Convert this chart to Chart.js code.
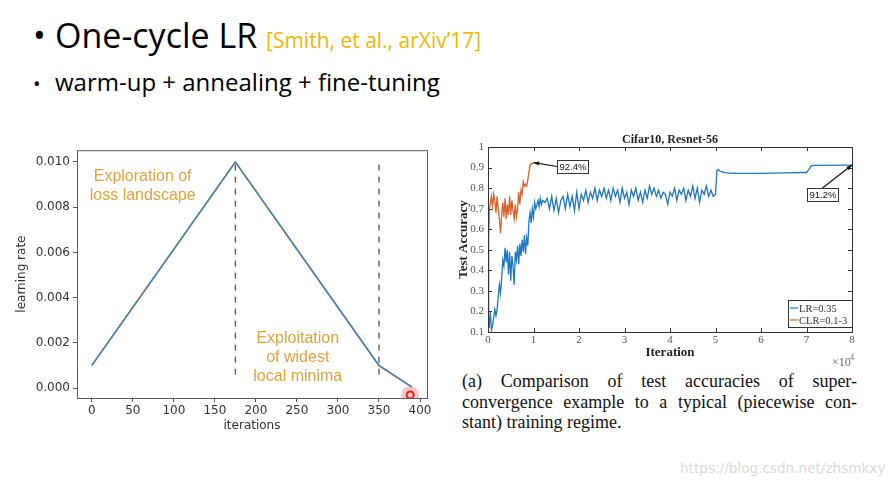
<!DOCTYPE html>
<html lang="en">
<head>
<meta charset="UTF-8">
<title>One-cycle LR</title>
<script src="https://cdn.jsdelivr.net/npm/chart.js"></script>
<style>
  html, body { margin: 0; padding: 0; background: #fff; }
  body { width: 895px; height: 488px; position: relative; overflow: hidden; font-family: "Open Sans", sans-serif; }
  .abs { position: absolute; white-space: nowrap; }
  #title { left: 33px; top: 12px; font-size: 34px; color: #000; line-height: 46px; }
  #title .cite { font-size: 21px; color: #f5b700; }
  #sub { left: 33px; top: 66px; font-size: 24px; color: #000; line-height: 32px; }
  .bullet { display: inline-block; width: 22px; }
  #sub .bullet { font-size: 20px; }
  #lrBox { left: 10px; top: 140px; width: 430px; height: 300px; }
  #accBox { left: 450px; top: 125px; width: 420px; height: 245px; }
  #caption { left: 462px; top: 371px; width: 395px; font-family: "Liberation Serif", serif; font-size: 18px; line-height: 20.5px; color: #111; white-space: normal; }
  #caption .j { text-align: justify; text-align-last: justify; }
  #mark { left: 680px; top: 460px; font-family: "DejaVu Sans", sans-serif; font-size: 13.6px; color: #dadada; }
</style>
</head>
<body>
  <div id="title" class="abs"><span class="bullet">•</span>One-cycle LR <span class="cite">[Smith, et al., arXiv’17]</span></div>
  <div id="sub" class="abs"><span class="bullet">•</span>warm-up + annealing + fine-tuning</div>

  <div id="lrBox" class="abs"><canvas id="lrChart" width="430" height="300"></canvas></div>
  <div id="accBox" class="abs"><canvas id="accChart" width="420" height="245"></canvas></div>

  <div id="caption" class="abs">
    <div class="j">(a) Comparison of test accuracies of super-</div>
    <div class="j">convergence example to a typical (piecewise con-</div>
    <div>stant) training regime.</div>
  </div>
  <div id="mark" class="abs">https://blog.csdn.net/zhsmkxy</div>

<script>
// ---- left plot: one-cycle learning-rate schedule ----
const lrIters = [0, 175, 350, 390];
const lrValues = [0.001, 0.010, 0.001, 0.00005];
const lrTicksX = [0, 50, 100, 150, 200, 250, 300, 350, 400];
const lrTicksY = [0, 0.002, 0.004, 0.006, 0.008, 0.010];
const phaseIters = [175, 350];
const phaseTop = [0.0100, 0.0099];
const phaseBottom = 0.0006;
const cursorPoint = { x: 388, y: -0.0003 };

// ---- right plot: Cifar10 test accuracy ----
const lrSeriesIters = [
  0, 250, 500, 750, 1000, 1250, 1500, 1750, 2000, 2250, 2500, 2750, 3000, 3250, 3500, 3750,
  4000, 4250, 4500, 4750, 5000, 5250, 5500, 5750, 6000, 6250, 6500, 6750, 7000, 7250, 7500, 7750,
  8000, 8250, 8500, 8750, 9000, 9250, 9500, 9750, 10000, 10250, 10500, 10750, 11000, 11250, 11500, 11750,
  12000, 12500, 13000, 13500, 14000, 14500, 15000, 15500, 16000, 16500, 17000, 17500, 18000, 18500, 19000, 19500,
  20000, 20500, 21000, 21500, 22000, 22500, 23000, 23500, 24000, 24500, 25000, 25500, 26000, 26500, 27000, 27500,
  28000, 28500, 29000, 29500, 30000, 30500, 31000, 31500, 32000, 32500, 33000, 33500, 34000, 34500, 35000, 35500,
  36000, 36500, 37000, 37500, 38000, 38500, 39000, 39500, 40000, 40500, 41000, 41500, 42000, 42500, 43000, 43500,
  44000, 44500, 45000, 45500, 46000, 46500, 47000, 47500, 48000, 48500, 49000, 49500, 50000,
  50300, 50600, 51000, 52000, 54000, 60000, 65000, 69500, 70000, 70500, 71000, 71500, 80000
];
const lrSeriesAcc = [
  0.20, 0.12, 0.20, 0.11, 0.13, 0.17, 0.21, 0.18, 0.21, 0.27, 0.33, 0.29, 0.36, 0.45, 0.42, 0.51,
  0.44, 0.50, 0.38, 0.49, 0.35, 0.47, 0.42, 0.33, 0.49, 0.45, 0.52, 0.43, 0.53, 0.47, 0.55, 0.49,
  0.57, 0.48, 0.56, 0.52, 0.64, 0.68, 0.63, 0.70, 0.66, 0.73, 0.70, 0.72, 0.74, 0.71, 0.75, 0.72,
  0.74, 0.73, 0.75, 0.70, 0.76, 0.69, 0.75, 0.68, 0.74, 0.76, 0.70, 0.77, 0.71, 0.76, 0.69, 0.78,
  0.70, 0.77, 0.74, 0.79, 0.73, 0.78, 0.75, 0.80, 0.74, 0.79, 0.76, 0.80, 0.75, 0.79, 0.74, 0.80,
  0.76, 0.79, 0.73, 0.80, 0.75, 0.78, 0.72, 0.79, 0.76, 0.80, 0.74, 0.78, 0.73, 0.79, 0.75, 0.81,
  0.77, 0.80, 0.76, 0.79, 0.75, 0.78, 0.77, 0.72, 0.78, 0.76, 0.80, 0.74, 0.79, 0.77, 0.80, 0.74,
  0.79, 0.76, 0.81, 0.75, 0.80, 0.73, 0.79, 0.77, 0.81, 0.76, 0.79, 0.76, 0.77,
  0.885, 0.890, 0.883, 0.875, 0.872, 0.872, 0.874, 0.876, 0.876, 0.890, 0.906, 0.911, 0.912
];
const clrSeriesIters = [
  0, 150, 300, 500, 750, 1000, 1250, 1500, 1750, 2000, 2250, 2500, 2750, 3000, 3250, 3500,
  3750, 4000, 4250, 4500, 4750, 5000, 5250, 5500, 5750, 6000, 6250, 6500, 6750, 7000, 7250, 7500,
  7750, 8000, 8250, 8500, 8750, 9000, 9250, 9500, 9750, 10000
];
const clrSeriesAcc = [
  0.20, 0.55, 0.70, 0.72, 0.76, 0.71, 0.77, 0.74, 0.68, 0.76, 0.70, 0.65, 0.58, 0.67, 0.73, 0.66,
  0.75, 0.65, 0.72, 0.67, 0.76, 0.67, 0.74, 0.69, 0.65, 0.72, 0.66, 0.70, 0.78, 0.72, 0.79, 0.77,
  0.83, 0.81, 0.82, 0.81, 0.84, 0.88, 0.91, 0.92, 0.918, 0.924
];
const accTicksX = [0, 10000, 20000, 30000, 40000, 50000, 60000, 70000, 80000];
const accTicksY = [0.1, 0.2, 0.3, 0.4, 0.5, 0.6, 0.7, 0.8, 0.9, 1];
// callout boxes: label, data point, box top-left offset from the point, arrow anchor side
const callouts = [
  { text: '92.4%', x: 10000, y: 0.924, dx: 23, dy: -3, from: 'left' },
  { text: '91.2%', x: 80000, y: 0.912, dx: -45, dy: 23, from: 'top' }
];

const toXY = (xs, ys) => xs.map((x, i) => ({ x: x, y: ys[i] }));
const fixTicks = list => scale => { scale.ticks = list.map(v => ({ value: v })); };

// Left chart
const sans = '"DejaVu Sans", sans-serif';
const lrDecor = {
  id: 'lrDecor',
  afterDraw(chart) {
    const { ctx, chartArea: a, scales: { x, y } } = chart;
    ctx.save();
    ctx.strokeStyle = '#5a5a5a';
    ctx.lineWidth = 1;
    ctx.strokeRect(a.left + 0.5, a.top + 0.5, a.right - a.left, a.bottom - a.top);
    ctx.fillStyle = '#333';
    ctx.font = '12px ' + sans;
    ctx.textAlign = 'center';
    ctx.textBaseline = 'middle';
    ctx.fillText('iterations', (a.left + a.right) / 2, 286);
    ctx.translate(12, (a.top + a.bottom) / 2);
    ctx.rotate(-Math.PI / 2);
    ctx.fillText('learning rate', 0, 0);
    ctx.restore();

    ctx.save();
    ctx.fillStyle = '#e3a23c';
    ctx.font = '16px "Liberation Sans", sans-serif';
    ctx.textAlign = 'center';
    ctx.textBaseline = 'middle';
    const ex = x.getPixelForValue(62);
    ctx.fillText('Exploration of', ex, y.getPixelForValue(0.00935));
    ctx.fillText('loss landscape', ex, y.getPixelForValue(0.0085));
    const fx = x.getPixelForValue(251);
    ctx.fillText('Exploitation', fx, y.getPixelForValue(0.0022));
    ctx.fillText('of widest', fx, y.getPixelForValue(0.00135));
    ctx.fillText('local minima', fx, y.getPixelForValue(0.0005));
    ctx.restore();
  }
};

const lrDatasets = [
  {
    data: toXY(lrIters, lrValues),
    borderColor: '#4f7ea1',
    borderWidth: 1.8,
    pointRadius: 0,
    showLine: true
  }
];
phaseIters.forEach((it, i) => {
  lrDatasets.push({
    data: [{ x: it, y: phaseBottom }, { x: it, y: phaseTop[i] }],
    borderColor: '#555',
    borderWidth: 1.3,
    borderDash: [6, 6],
    pointRadius: 0,
    showLine: true
  });
});
lrDatasets.push({
  data: [cursorPoint],
  pointRadius: 9,
  pointBackgroundColor: 'rgba(255,60,60,0.28)',
  pointBorderWidth: 0,
  showLine: false
});
lrDatasets.push({
  data: [cursorPoint],
  pointRadius: 3.5,
  pointBackgroundColor: '#fff',
  pointBorderColor: '#f01010',
  pointBorderWidth: 2,
  showLine: false
});

new Chart(document.getElementById('lrChart'), {
  type: 'scatter',
  data: { datasets: lrDatasets },
  options: {
    responsive: false,
    animation: false,
    layout: { padding: { top: 6, right: 13, left: 0, bottom: 0 } },
    plugins: { legend: { display: false }, tooltip: { enabled: false } },
    scales: {
      x: {
        type: 'linear', min: -18, max: 408.5,
        afterBuildTicks: fixTicks(lrTicksX),
        afterFit: s => { s.height = 42; },
        border: { display: false },
        grid: { drawOnChartArea: false, tickLength: 4, color: '#555' },
        ticks: { color: '#333', font: { family: sans, size: 12 }, padding: 2 }
      },
      y: {
        type: 'linear', min: -0.000435, max: 0.01052,
        afterBuildTicks: fixTicks(lrTicksY),
        afterFit: s => { s.width = 67; },
        border: { display: false },
        grid: { drawOnChartArea: false, tickLength: 4, color: '#555' },
        ticks: { color: '#333', font: { family: sans, size: 12 }, padding: 3,
                 callback: v => v.toFixed(3) }
      }
    }
  },
  plugins: [lrDecor]
});

// Right chart
const serif = '"Liberation Serif", serif';
const accDecor = {
  id: 'accDecor',
  afterDraw(chart) {
    const { ctx, chartArea: a, scales: { x, y } } = chart;
    ctx.save();
    ctx.strokeStyle = '#333';
    ctx.lineWidth = 1;
    ctx.strokeRect(a.left + 0.5, a.top + 0.5, a.right - a.left, a.bottom - a.top);
    ctx.beginPath();
    accTicksX.forEach(v => {
      const px = Math.round(x.getPixelForValue(v)) + 0.5;
      ctx.moveTo(px, a.bottom); ctx.lineTo(px, a.bottom - 4);
      ctx.moveTo(px, a.top); ctx.lineTo(px, a.top + 4);
    });
    accTicksY.forEach(v => {
      const py = Math.round(y.getPixelForValue(v)) + 0.5;
      ctx.moveTo(a.left, py); ctx.lineTo(a.left + 4, py);
      ctx.moveTo(a.right, py); ctx.lineTo(a.right - 4, py);
    });
    ctx.stroke();

    ctx.fillStyle = '#222';
    ctx.textAlign = 'center';
    ctx.textBaseline = 'middle';
    ctx.font = 'bold 12px ' + serif;
    ctx.fillText('Cifar10, Resnet-56', (a.left + a.right) / 2, 15);
    ctx.font = 'bold 13px ' + serif;
    ctx.fillText('Iteration', (a.left + a.right) / 2, 228);
    ctx.save();
    ctx.translate(14, (a.top + a.bottom) / 2);
    ctx.rotate(-Math.PI / 2);
    ctx.fillText('Test Accuracy', 0, 0);
    ctx.restore();
    ctx.fillStyle = '#666';
    ctx.font = '12px ' + serif;
    ctx.textAlign = 'left';
    ctx.fillText('×10', a.right - 20, 238);
    ctx.font = '8px ' + serif;
    ctx.fillText('4', a.right - 2, 233);

    // callouts
    ctx.font = '9.5px "Liberation Sans", sans-serif';
    callouts.forEach(c => {
      const px = x.getPixelForValue(c.x), py = y.getPixelForValue(c.y);
      const bw = 31, bh = 13;
      const bx = Math.round(px + c.dx), by = Math.round(py + c.dy);
      const ax = c.from === 'left' ? bx : bx + bw / 2;
      const ay = c.from === 'left' ? by + bh / 2 : by;
      ctx.strokeStyle = '#111';
      ctx.lineWidth = 1.2;
      ctx.beginPath();
      ctx.moveTo(ax, ay); ctx.lineTo(px, py); ctx.stroke();
      const ang = Math.atan2(py - ay, px - ax);
      ctx.fillStyle = '#111';
      ctx.beginPath();
      ctx.moveTo(px, py);
      ctx.lineTo(px - 6 * Math.cos(ang - 0.35), py - 6 * Math.sin(ang - 0.35));
      ctx.lineTo(px - 6 * Math.cos(ang + 0.35), py - 6 * Math.sin(ang + 0.35));
      ctx.closePath(); ctx.fill();
      ctx.fillStyle = '#fff';
      ctx.fillRect(bx, by, bw, bh);
      ctx.strokeStyle = '#333';
      ctx.lineWidth = 1;
      ctx.strokeRect(bx + 0.5, by + 0.5, bw, bh);
      ctx.fillStyle = '#111';
      ctx.textAlign = 'center';
      ctx.fillText(c.text, bx + bw / 2 + 0.5, by + bh / 2 + 1);
    });

    // legend
    const lx = a.right - 64, ly = a.bottom - 32;
    ctx.fillStyle = '#fff';
    ctx.fillRect(lx, ly, 64, 27);
    ctx.strokeStyle = '#333';
    ctx.strokeRect(lx + 0.5, ly + 0.5, 64, 27);
    ctx.font = '10.5px ' + serif;
    ctx.textAlign = 'left';
    chart.data.datasets.forEach((ds, i) => {
      const yy = ly + 8 + i * 12;
      ctx.strokeStyle = ds.borderColor;
      ctx.lineWidth = 1.2;
      ctx.beginPath(); ctx.moveTo(lx + 2, yy); ctx.lineTo(lx + 10, yy); ctx.stroke();
      ctx.fillStyle = '#333';
      ctx.fillText(ds.label, lx + 11, yy + 1);
    });
    ctx.restore();
  }
};

new Chart(document.getElementById('accChart'), {
  type: 'scatter',
  data: {
    datasets: [
      { label: 'LR=0.35', data: toXY(lrSeriesIters, lrSeriesAcc), borderColor: '#1f77c4',
        borderWidth: 1.3, pointRadius: 0, showLine: true },
      { label: 'CLR=0.1-3', data: toXY(clrSeriesIters, clrSeriesAcc), borderColor: '#d9622b',
        borderWidth: 1.3, pointRadius: 0, showLine: true }
    ]
  },
  options: {
    responsive: false,
    animation: false,
    layout: { padding: { top: 22, right: 18, left: 0, bottom: 0 } },
    plugins: { legend: { display: false }, tooltip: { enabled: false } },
    scales: {
      x: {
        type: 'linear', min: 0, max: 80000,
        afterBuildTicks: fixTicks(accTicksX),
        afterFit: s => { s.height = 38; },
        border: { display: false },
        grid: { display: false, drawTicks: false, tickLength: 0 },
        ticks: { color: '#555', font: { family: serif, size: 11 }, padding: 2,
                 maxRotation: 0, callback: v => String(v / 10000) }
      },
      y: {
        type: 'linear', min: 0.1, max: 1,
        afterBuildTicks: fixTicks(accTicksY),
        afterFit: s => { s.width = 38; },
        border: { display: false },
        grid: { display: false, drawTicks: false, tickLength: 0 },
        ticks: { color: '#555', font: { family: serif, size: 11 }, padding: 4,
                 callback: v => String(Math.round(v * 10) / 10) }
      }
    }
  },
  plugins: [accDecor]
});
</script>
</body>
</html>
